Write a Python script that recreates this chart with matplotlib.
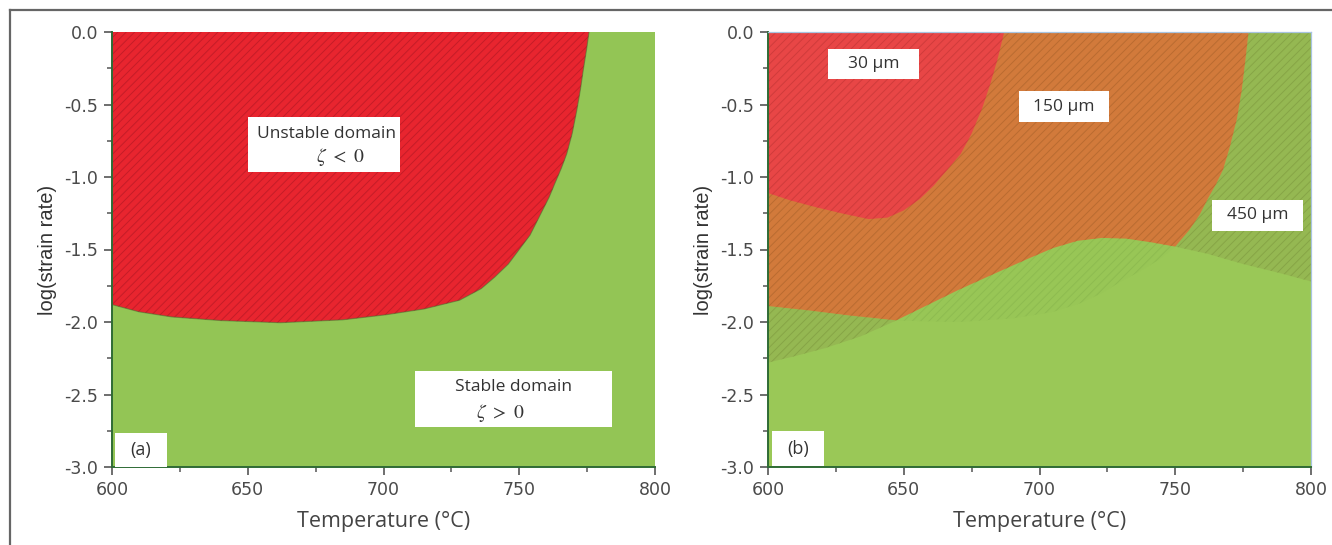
import matplotlib
matplotlib.use("Agg")
import matplotlib.pyplot as plt
from matplotlib.patches import Polygon, Rectangle
from matplotlib.lines import Line2D
from matplotlib.ticker import MultipleLocator

# ---------------- data ----------------
temp_ticks = [600, 650, 700, 750, 800]
rate_ticks = [0.0, -0.5, -1.0, -1.5, -2.0, -2.5, -3.0]

# panel (a): unstable / stable boundary
a_temp = [600, 610, 622, 640, 662, 685, 701, 715, 728, 736, 741, 746, 750, 754,
          757.5, 761, 763, 765.5, 767.5, 769.5, 771.2, 772.5, 773.6, 774.8, 775.7]
a_rate = [-1.88, -1.93, -1.965, -1.99, -2.005, -1.985, -1.95, -1.91, -1.85, -1.77,
          -1.69, -1.60, -1.50, -1.40, -1.27, -1.14, -1.05, -0.94, -0.84, -0.70,
          -0.54, -0.40, -0.26, -0.12, 0.0]

# panel (b): 30 um boundary
b30_temp = [600, 608, 617, 627, 637, 644, 650, 656, 661, 666, 671, 675, 679, 682, 684.5, 687]
b30_rate = [-1.11, -1.16, -1.205, -1.25, -1.29, -1.28, -1.23, -1.15, -1.06, -0.95,
            -0.84, -0.70, -0.52, -0.35, -0.19, 0.0]

# panel (b): 150 um boundary
b150_temp = [600, 615, 630, 648, 670, 690, 705, 715, 723, 730, 737, 744, 750, 755,
             759, 762, 765, 767.6, 770, 772.7, 774.5, 775.8, 777]
b150_rate = [-1.89, -1.92, -1.955, -1.99, -2.0, -1.975, -1.93, -1.87, -1.80, -1.72,
             -1.65, -1.57, -1.48, -1.37, -1.26, -1.15, -1.05, -0.95, -0.80, -0.60,
             -0.40, -0.20, 0.0]

# panel (b): 450 um boundary
b450_temp = [600, 610, 621, 634, 646, 658, 670, 683, 695, 705, 714, 723, 732, 741,
             750, 762, 775, 788, 800]
b450_rate = [-2.28, -2.235, -2.18, -2.10, -2.0, -1.89, -1.78, -1.67, -1.57, -1.49,
             -1.44, -1.42, -1.425, -1.45, -1.48, -1.53, -1.60, -1.66, -1.72]

labels_b = ["30 µm", "150 µm", "450 µm"]

# ---------------- figure ----------------
plt.rcParams['hatch.linewidth'] = 0.7
fig = plt.figure(figsize=(13.32, 5.45), dpi=100)

W, H = 1332.0, 545.0
def ax_rect(left_px, right_px, top_px, bot_px):
    return [left_px / W, 1 - bot_px / H, (right_px - left_px) / W, (bot_px - top_px) / H]

ax_a = fig.add_axes(ax_rect(112, 655, 32, 467))
ax_b = fig.add_axes(ax_rect(768, 1311, 32, 467))

GREEN_A = '#93c555'
GREEN_B = '#9ac857'

def region(temps, rates, corners):
    return list(zip(temps, rates)) + corners

def style_axes(ax, top_right_visible):
    ax.set_xlim(600, 800)
    ax.set_ylim(-3.0, 0.0)
    ax.set_xticks(temp_ticks)
    ax.set_yticks(rate_ticks)
    ax.set_xticklabels([str(t) for t in temp_ticks], family='DejaVu Sans')
    ax.set_yticklabels([f"{r:.1f}" for r in rate_ticks], family='DejaVu Sans')
    ax.xaxis.set_minor_locator(MultipleLocator(25))
    ax.yaxis.set_minor_locator(MultipleLocator(0.25))
    ax.tick_params(which='major', direction='out', length=6, width=1.2, color='#555555',
                   labelsize=12.5, labelcolor='#4a4a4a', pad=4)
    ax.tick_params(which='minor', direction='out', length=3.5, width=1.1, color='#555555')
    for s in ['left', 'bottom']:
        ax.spines[s].set_color('#2f6b35')
        ax.spines[s].set_linewidth(1.4)
        ax.spines[s].set_zorder(6)
    for s in ['top', 'right']:
        if top_right_visible:
            ax.spines[s].set_color('#a8c4e0')
            ax.spines[s].set_linewidth(0.9)
            ax.spines[s].set_zorder(6)
        else:
            ax.spines[s].set_visible(False)
    ax.set_xlabel('Temperature (°C)', fontsize=15.5, color='#444444',
                  family='Open Sans', labelpad=9)
    ax.set_ylabel('log(strain rate)', fontsize=14.5, color='#333333',
                  family='Liberation Sans', labelpad=5)

def box_text(ax, x0, x1, y0, y1, txt, tx, ty, size=11, family='Open Sans'):
    ax.add_patch(Rectangle((x0, y0), x1 - x0, y1 - y0, facecolor='white',
                           edgecolor='none', zorder=10))
    ax.text(tx, ty, txt, ha='center', va='center', fontsize=size, color='#333333',
            family=family, zorder=11)

# ---- panel (a)
ax_a.set_facecolor(GREEN_A)
red_a = Polygon(region(a_temp, a_rate, [(600, 0.0)]), closed=True,
                facecolor='#e8252f', edgecolor='#c41d28', hatch='////', linewidth=0, zorder=2)
ax_a.add_patch(red_a)
ax_a.plot(a_temp, a_rate, color='#3d6e30', lw=0.8, alpha=0.5, zorder=3)
style_axes(ax_a, False)

box_text(ax_a, 650.1, 706.1, -0.966, -0.586, 'Unstable domain', 679, -0.70, size=12.5)
ax_a.text(684, -0.865, r'$\zeta\ <\ 0$', ha='center', va='center', fontsize=14,
          color='#333333', zorder=11, math_fontfamily='stix')
box_text(ax_a, 711.6, 784.2, -2.724, -2.338, 'Stable domain', 748, -2.45, size=12.5)
ax_a.text(743, -2.625, r'$\zeta\ >\ 0$', ha='center', va='center', fontsize=14,
          color='#333333', zorder=11, math_fontfamily='stix')
box_text(ax_a, 601.1, 620.3, -3.0, -2.766, '(a)', 610.5, -2.885, size=13)

# ---- panel (b)
ax_b.set_facecolor(GREEN_B)
above450 = region(b450_temp, b450_rate, [(800, 0.0), (600, 0.0)])
olive = Polygon(above450, closed=True, facecolor='#95b852', edgecolor='#86a546',
                hatch='////', linewidth=0, zorder=2)
ax_b.add_patch(olive)

p150 = region(b150_temp, b150_rate, [(600, 0.0)])
faint150 = Polygon(p150, closed=True, facecolor='#98c656', edgecolor='#8dbb50',
                   hatch='////', linewidth=0, zorder=2.5)
ax_b.add_patch(faint150)
orange = Polygon(p150, closed=True, facecolor='#d27a3b', edgecolor='#b96b31',
                 hatch='////', linewidth=0, zorder=3)
ax_b.add_patch(orange)
clip450 = Polygon(above450, closed=True, transform=ax_b.transData)
orange.set_clip_path(clip450)

red_b = Polygon(region(b30_temp, b30_rate, [(600, 0.0)]), closed=True,
                facecolor='#e84646', edgecolor='#cf3b3b', hatch='////', linewidth=0, zorder=4)
ax_b.add_patch(red_b)
style_axes(ax_b, True)

box_text(ax_b, 622.1, 655.6, -0.324, -0.117, labels_b[0], 638.8, -0.22, size=12.5)
box_text(ax_b, 692.4, 725.6, -0.621, -0.407, labels_b[1], 709.0, -0.515, size=12.5)
box_text(ax_b, 763.5, 797.1, -1.372, -1.159, labels_b[2], 780.3, -1.265, size=12.5)
box_text(ax_b, 601.5, 620.6, -2.993, -2.752, '(b)', 611, -2.875, size=13)

# outer frame (top and left edges visible in the reference)
fig.add_artist(Line2D([10 / W, 1.0], [1 - 10 / H, 1 - 10 / H], color='#666666', lw=1.6))
fig.add_artist(Line2D([10 / W, 10 / W], [0.0, 1 - 10 / H], color='#666666', lw=1.6))

fig.savefig('out.png', dpi=100)
